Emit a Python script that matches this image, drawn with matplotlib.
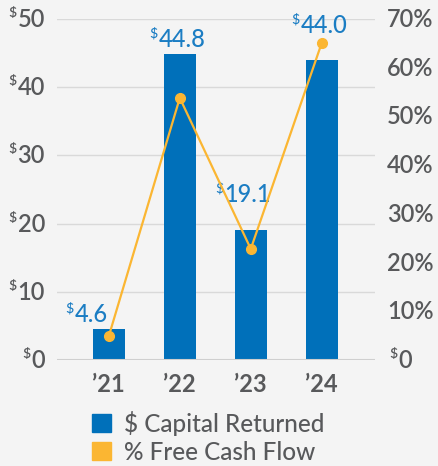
import matplotlib
matplotlib.use("Agg")
import matplotlib.pyplot as plt
from matplotlib.patches import Patch

plt.rcParams['font.family'] = ['Lato', 'DejaVu Sans']

# ---- data ----
years = ["\u201921", "\u201922", "\u201923", "\u201924"]
capital_returned = [4.6, 44.8, 19.1, 44.0]       # $ (left axis)
fcf_pct = [4.9, 53.8, 22.8, 65.1]                # % free cash flow (right axis)
left_ticks = [0, 10, 20, 30, 40, 50]
right_ticks = [0, 10, 20, 30, 40, 50, 60, 70]

# label offsets (pixels) so the value labels stay clear of the line
label_dx = [-18, 2, -3, 2]
label_dy = [7, 7, 28, 27]

BG = "#f4f4f4"
BLUE = "#0070ba"
GOLD = "#fbb632"
GRAY = "#58595b"
LBLUE = "#1b7dc3"
GRID = "#d9d9d9"

fig = plt.figure(figsize=(4.38, 4.66), dpi=100, facecolor=BG)
ax = fig.add_axes([57/438, 106/466, 318/438, 341/466], facecolor=BG)
ax2 = ax.twinx()

x = list(range(len(years)))
ax.bar(x, capital_returned, width=0.45, color=BLUE, zorder=3)
ax.set_xlim(-0.73, 3.75)
ax.set_ylim(0, 50)
for v in left_ticks[1:]:
    ax.axhline(v, color=GRID, lw=1, zorder=1)
ax.axhline(0, color="#cfcfcf", lw=1.5, zorder=4)

ax2.plot(x, fcf_pct, color=GOLD, lw=1.6, marker="o", ms=7, zorder=5)
ax2.set_ylim(0, 70)
ax2.set_zorder(ax.get_zorder() + 1)
ax2.patch.set_visible(False)

for a in (ax, ax2):
    for s in a.spines.values():
        s.set_visible(False)
    a.set_yticks([])
    a.tick_params(length=0)
ax2.set_xticks([])

ax.set_xticks(x)
ax.set_xticklabels(years, fontsize=17, fontweight="bold", color=GRAY)
ax.tick_params(axis="x", pad=9)


def dollar_label(axis, xy, xycoords, text, color, ha, dx, dy, size=17,
                 weight="semibold"):
    t = axis.annotate(text, xy=xy, xycoords=xycoords, xytext=(dx, dy),
                      textcoords="offset pixels", ha=ha, va="baseline",
                      fontsize=size, color=color, fontweight=weight, zorder=6)
    axis.annotate("$", xy=(0, 1), xycoords=t, xytext=(-1, 1),
                  textcoords="offset pixels", ha="right", va="top",
                  fontsize=size * 0.6, color=color, fontweight=weight,
                  zorder=6)
    return t


# left axis labels
for v in left_ticks:
    dollar_label(ax, (0, v), ("axes fraction", "data"), str(v), GRAY,
                 "right", -12, -8)

# right axis labels
for v in right_ticks:
    if v == 0:
        dollar_label(ax2, (1, v), ("axes fraction", "data"), "0", GRAY,
                     "left", 23, -8)
    else:
        ax2.annotate(f"{v}%", xy=(1, v), xycoords=("axes fraction", "data"),
                     xytext=(12, -8), textcoords="offset pixels", ha="left",
                     va="baseline", fontsize=17, color=GRAY,
                     fontweight="semibold")

# value labels
for i, v in enumerate(capital_returned):
    dollar_label(ax, (i, v), "data", f"{v:.1f}", LBLUE, "center",
                 label_dx[i], label_dy[i], size=17, weight="medium")

handles = [Patch(color=BLUE), Patch(color=GOLD)]
fig.legend(handles, ["$ Capital Returned", "% Free Cash Flow"],
           loc="upper left", bbox_to_anchor=(82/438, 1 - 401/466),
           frameon=False, prop={"size": 17.5, "weight": "medium"},
           labelcolor=GRAY, handlelength=0.78, handleheight=0.78,
           handletextpad=0.55, labelspacing=0.2, borderaxespad=0)

fig.savefig("out.png", dpi=100, facecolor=BG)
